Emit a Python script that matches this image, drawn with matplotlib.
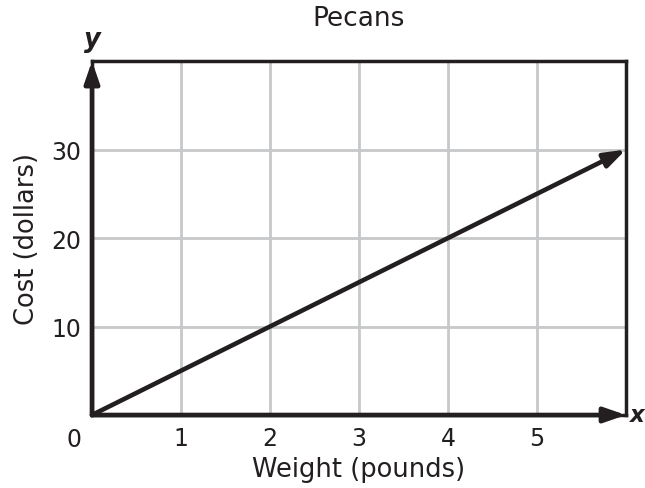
import matplotlib.pyplot as plt

weights = [0, 6]
costs = [0, 30]
x_ticks = [1, 2, 3, 4, 5]
y_ticks = [10, 20, 30]

dark = '#231f20'
grid_col = '#c6c8ca'

fig = plt.figure(figsize=(6.45, 4.89), dpi=100)
ax = fig.add_axes([0.1426, 0.1493, 0.8279, 0.7237])
ax.set_xlim(0, 6)
ax.set_ylim(0, 40)

ax.set_xticks(x_ticks)
ax.set_yticks(y_ticks)
ax.tick_params(length=0, labelsize=17, colors=dark, pad=8)
ax.grid(True, color=grid_col, linewidth=2)
ax.set_axisbelow(True)
for s in ax.spines.values():
    s.set_color(dark)
    s.set_linewidth(2.5)

arrow = dict(arrowstyle='-|>,head_length=1.3,head_width=0.45',
             color=dark, lw=3.3, shrinkA=0, shrinkB=0)

# data line with arrowhead
ax.annotate('', xy=(weights[1], costs[1]), xytext=(weights[0], costs[0]),
            arrowprops=arrow, zorder=5)
# axis arrows
ax.annotate('', xy=(0, 40), xytext=(0, 0), arrowprops=arrow,
            annotation_clip=False, zorder=6)
ax.annotate('', xy=(6, 0), xytext=(0, 0), arrowprops=arrow,
            annotation_clip=False, zorder=6)

ax.text(-0.2, -1.4, '0', ha='center', va='top', fontsize=17, color=dark)
ax.text(0.0, 41, 'y', ha='center', va='bottom', fontsize=18.5,
        fontweight='bold', style='italic', color=dark)
ax.text(6.04, 0, 'x', ha='left', va='center', fontsize=16.5,
        fontweight='bold', style='italic', color=dark)

ax.set_title('Pecans', fontsize=19, color=dark, pad=26)
ax.set_xlabel('Weight (pounds)', fontsize=18.5, color=dark, labelpad=4)
ax.set_ylabel('Cost (dollars)', fontsize=18.5, color=dark, labelpad=8)

fig.savefig('out.png', dpi=100)
